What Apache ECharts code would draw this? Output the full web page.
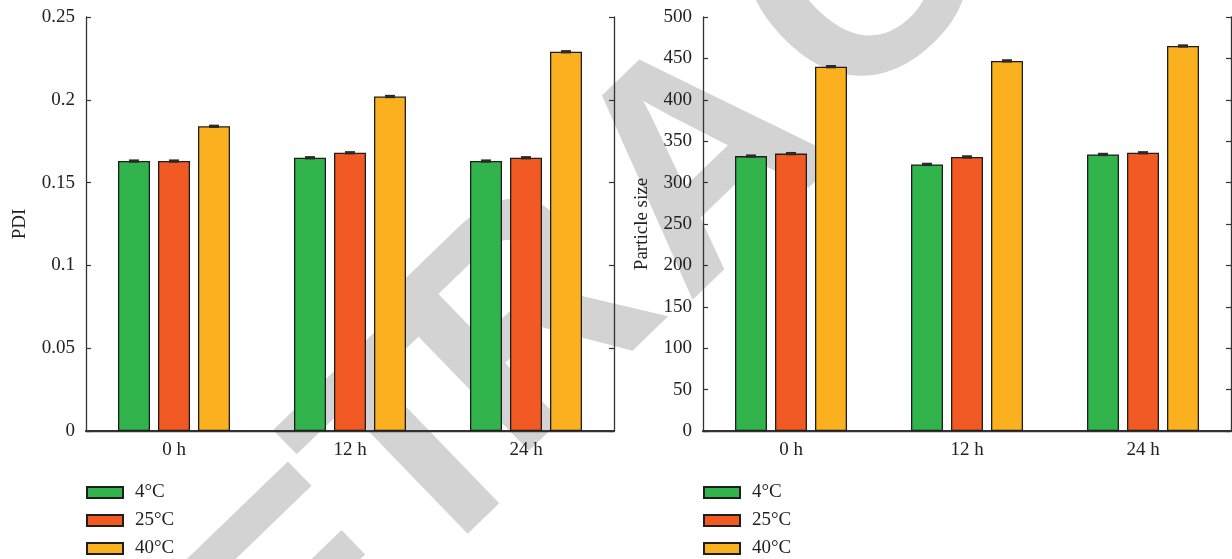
<!DOCTYPE html>
<html>
<head>
<meta charset="utf-8">
<script src="https://cdn.jsdelivr.net/npm/echarts@6/dist/echarts.min.js"></script>
<style>
html,body{margin:0;padding:0;background:#fff;}
#chart{width:1232px;height:559px;}
</style>
</head>
<body>
<div id="chart"></div>
<script>
const categories = ['0 h', '12 h', '24 h'];
const seriesNames = ['4°C', '25°C', '40°C'];
const seriesColors = ['#31b44b', '#f15a22', '#fbb01f'];

const pdi4 = [0.163, 0.165, 0.163];
const pdi25 = [0.163, 0.168, 0.165];
const pdi40 = [0.184, 0.202, 0.229];
const pdiErr4 = [0.0004, 0.0004, 0.0004];
const pdiErr25 = [0.0004, 0.0004, 0.0004];
const pdiErr40 = [0.0004, 0.0004, 0.0004];

const size4 = [332, 322, 334];
const size25 = [335, 331, 336];
const size40 = [440, 447, 465];
const sizeErr4 = [0.8, 0.8, 0.8];
const sizeErr25 = [0.8, 0.8, 0.8];
const sizeErr40 = [0.8, 0.8, 0.8];

const pdiTicks = { min: 0, max: 0.25, interval: 0.05 };
const sizeTicks = { min: 0, max: 500, interval: 50 };

const watermarkText = 'RETRACTED';

const FONT = 'Liberation Serif';
const FS = 19;
const AXC = '#333';
const BAR_W = 32;
const BAR_GAP = 8;

function xAxes(grid) {
  return [
    {
      gridIndex: grid, type: 'category', data: categories, position: 'bottom',
      axisLine: { lineStyle: { color: AXC, width: 2 } },
      axisTick: { inside: true, alignWithLabel: true, length: 5, lineStyle: { color: AXC, width: 1.2 } },
      axisLabel: { fontFamily: FONT, fontSize: FS, color: '#222', margin: 10 },
      splitLine: { show: false }
    },
    {
      gridIndex: grid, type: 'category', data: categories, position: 'top',
      axisLine: { show: true, lineStyle: { color: AXC, width: 1.3 } },
      axisTick: { inside: true, alignWithLabel: true, length: 5, lineStyle: { color: AXC, width: 1.2 } },
      axisLabel: { show: false },
      splitLine: { show: false }
    }
  ];
}
function yAxes(grid, ticks, name, gap) {
  return [
    {
      gridIndex: grid, type: 'value', min: ticks.min, max: ticks.max, interval: ticks.interval, position: 'left',
      axisLine: { show: true, lineStyle: { color: AXC, width: 1.3 } },
      axisTick: { show: true, inside: true, length: 5, lineStyle: { color: AXC, width: 1.2 } },
      axisLabel: { fontFamily: FONT, fontSize: FS, color: '#222', margin: 11 },
      splitLine: { show: false },
      name: name, nameLocation: 'middle', nameGap: gap, nameRotate: 90,
      nameTextStyle: { fontFamily: FONT, fontSize: FS, color: '#222' }
    },
    {
      gridIndex: grid, type: 'value', min: ticks.min, max: ticks.max, interval: ticks.interval, position: 'right',
      axisLine: { show: true, lineStyle: { color: AXC, width: 1.3 } },
      axisTick: { show: true, inside: true, length: 5, lineStyle: { color: AXC, width: 1.2 } },
      axisLabel: { show: false },
      splitLine: { show: false }
    }
  ];
}

function barSeries(grid, values) {
  return values.map((vals, i) => ({
    name: seriesNames[i], type: 'bar',
    xAxisIndex: grid * 2, yAxisIndex: grid * 2,
    data: vals, barWidth: BAR_W, barGap: (BAR_GAP / BAR_W * 100) + '%',
    itemStyle: { color: seriesColors[i], borderColor: '#1e1e1e', borderWidth: 1.3 },
    z: 3
  }));
}
function errSeries(grid, values, errs) {
  return values.map((vals, i) => ({
    name: 'err' + grid + '_' + i, type: 'custom',
    xAxisIndex: grid * 2, yAxisIndex: grid * 2,
    data: vals.map((v, j) => [j, v, errs[i][j]]),
    z: 4, silent: true,
    renderItem: function (params, api) {
      const c = api.value(0), v = api.value(1), e = api.value(2);
      const off = (i - 1) * (BAR_W + BAR_GAP);
      const hi = api.coord([c, v + e]);
      const lo = api.coord([c, v - e]);
      const x = hi[0] + off;
      const half = 5;
      const top = Math.min(hi[1], lo[1]) - 1;
      const h = Math.abs(lo[1] - hi[1]) + 2;
      return {
        type: 'rect',
        shape: { x: x - half, y: top, width: half * 2, height: h },
        style: { fill: '#2a2a2a' }
      };
    }
  }));
}

// watermark letters placed along a diagonal line
const WM_ANGLE = 44;
const wmPos = [[160, 750], [315, 610], [425, 458], [535, 328], [708, 168], [868, -15], [1014, -152], [1160, -289], [1306, -426]];
const wmGraphics = watermarkText.split('').map((ch, k) => ({
  type: 'text', x: wmPos[k][0], y: wmPos[k][1], rotation: WM_ANGLE * Math.PI / 180,
  z: -10, silent: true,
  style: {
    text: ch, fontSize: 305, fontWeight: 'bold', fontFamily: 'Liberation Sans',
    fill: '#d3d3d3', align: 'center', verticalAlign: 'middle'
  }
}));

const legendCommon = {
  data: seriesNames, orient: 'vertical', top: 483, padding: 0,
  itemWidth: 36, itemHeight: 11, itemGap: 9, icon: 'rect',
  textStyle: { fontFamily: FONT, fontSize: FS, lineHeight: 19, color: '#222', padding: [0, 0, 0, 7] }
};

const chart = echarts.init(document.getElementById('chart'));
chart.setOption({
  animation: false,
  backgroundColor: '#fff',
  grid: [
    { left: 86, right: 618, top: 17, bottom: 128 },
    { left: 703, right: 1, top: 17, bottom: 128 }
  ],
  xAxis: [...xAxes(0), ...xAxes(1)],
  yAxis: [...yAxes(0, pdiTicks, 'PDI', 56), ...yAxes(1, sizeTicks, 'Particle size', 51)],
  legend: [
    Object.assign({ left: 86 }, legendCommon),
    Object.assign({ left: 703 }, legendCommon)
  ],
  graphic: wmGraphics,
  series: [
    ...barSeries(0, [pdi4, pdi25, pdi40]),
    ...errSeries(0, [pdi4, pdi25, pdi40], [pdiErr4, pdiErr25, pdiErr40]),
    ...barSeries(1, [size4, size25, size40]),
    ...errSeries(1, [size4, size25, size40], [sizeErr4, sizeErr25, sizeErr40])
  ]
});
</script>
</body>
</html>
